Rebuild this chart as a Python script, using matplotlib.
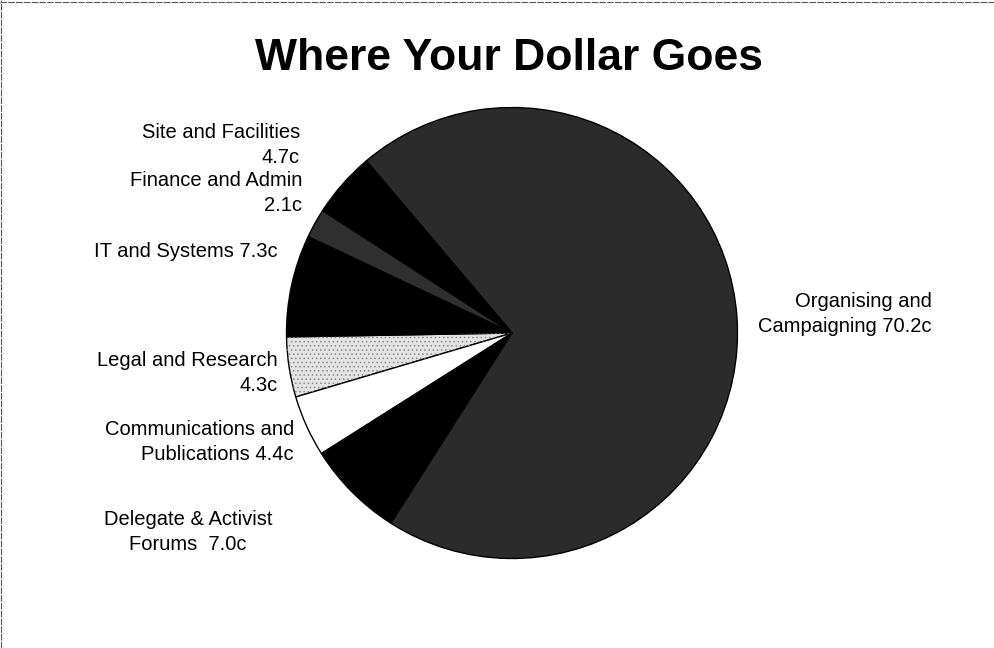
import matplotlib
matplotlib.use("Agg")
import matplotlib.pyplot as plt
from matplotlib.lines import Line2D

plt.rcParams['font.family'] = ['Liberation Sans', 'DejaVu Sans']
plt.rcParams['hatch.linewidth'] = 0.6

# Data (order: counter-clockwise starting just below 9 o'clock)
categories = ["Legal and Research", "Communications and Publications",
              "Delegate & Activist Forums", "Organising and Campaigning",
              "Site and Facilities", "Finance and Admin", "IT and Systems"]
values = [4.3, 4.4, 7.0, 70.2, 4.7, 2.1, 7.3]
label_texts = ["Legal and Research\n4.3c",
               "Communications and\nPublications 4.4c",
               "Delegate & Activist\nForums  7.0c",
               "Organising and\nCampaigning 70.2c",
               "Site and Facilities\n4.7c",
               "Finance and Admin\n2.1c",
               "IT and Systems 7.3c"]
colors = ["#e4e4e4", "#ffffff", "#000000", "#2b2b2b", "#000000", "#2f2f2f", "#000000"]

W, H = 995, 648
fig = plt.figure(figsize=(W / 100, H / 100), dpi=100)
fig.patch.set_facecolor("white")

cx, cy, r = 512, 333, 230
ax = fig.add_axes([(cx - r) / W, (H - cy - r) / H, 2 * r / W, 2 * r / H])
wedges, _ = ax.pie(values, colors=colors, startangle=181, counterclock=True,
                   radius=1.0, wedgeprops=dict(edgecolor="black", linewidth=1.0))
# dotted texture on the light wedge, drawn as an overlay so the outline stays black
over, _ = ax.pie([values[0], sum(values) - values[0]], colors=["none", "none"],
                 startangle=181, counterclock=True, radius=1.0,
                 wedgeprops=dict(linewidth=0))
over[0].set_hatch("....")
over[0].set_edgecolor("#888888")
over[1].set_visible(False)
ax.set_xlim(-1.02, 1.02)
ax.set_ylim(-1.02, 1.02)
ax.set_aspect("equal")
ax.axis("off")

# Label positions (pixels, text anchor) - style only
label_pos = [
    (278, 373, "right"),
    (294, 442, "right"),
    (188, 532, "center"),
    (932, 314, "right"),
    (300, 145, "right"),
    (302, 193, "right"),
    (278, 252, "right"),
]
for txt, (px, py, ha) in zip(label_texts, label_pos):
    fig.text(px / W, 1 - py / H, txt, ha=ha, va="center", fontsize=14.5,
             multialignment=ha, linespacing=1.42, color="black")

fig.text(509 / W, 1 - 58 / H, "Where Your Dollar Goes", ha="center", va="center",
         fontsize=32, fontweight="bold", color="black")

# Frame lines at top and left (scanned border)
fig.add_artist(Line2D([0.0, 1.0], [1 - 1.5 / H, 1 - 1.5 / H], transform=fig.transFigure,
                      color="#555555", linewidth=0.8, linestyle=(0, (6, 1))))
fig.add_artist(Line2D([1.5 / W, 1.5 / W], [0, 1], transform=fig.transFigure,
                      color="#555555", linewidth=0.8, linestyle=(0, (6, 1))))

fig.savefig("out.png", dpi=100, facecolor="white")
